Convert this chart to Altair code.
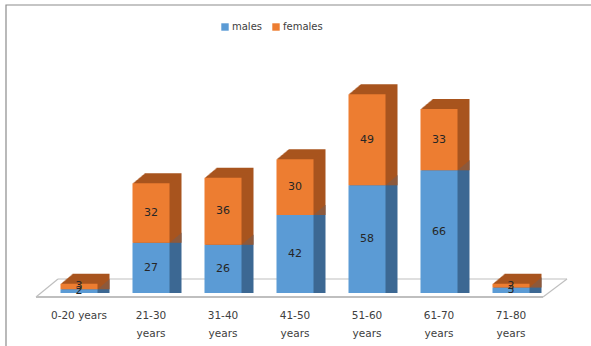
import altair as alt
import pandas as pd

categories = ["0-20 years", "21-30\nyears", "31-40\nyears", "41-50\nyears",
              "51-60\nyears", "61-70\nyears", "71-80\nyears"]
males = [2, 27, 26, 42, 58, 66, 3]
females = [3, 32, 36, 30, 49, 33, 2]
series = ["males", "females"]

rows = []
for c, m, f in zip(categories, males, females):
    rows.append({"cat": c, "series": "males", "value": m, "y0": 0, "y1": m, "mid": m / 2})
    rows.append({"cat": c, "series": "females", "value": f, "y0": m, "y1": m + f, "mid": m + f / 2})
df = pd.DataFrame(rows)

front_colors = ["#5b9bd5", "#ed7d31"]
side_colors = ["#3d6993", "#a8541e"]

FONT = "DejaVu Sans"
xenc = alt.X("cat:N", sort=categories, title=None,
             axis=alt.Axis(labelExpr="split(datum.label, '\\n')", labelAngle=0,
                           labelFont=FONT, labelFontSize=10.5, labelColor="#404040",
                           labelLineHeight=18, labelPadding=22, domain=False, ticks=False,
                           labelBaseline="middle"))
yscale = alt.Scale(domain=[0, 120])
yenc = alt.Y("y1:Q", scale=yscale, axis=None)

base = alt.Chart(df)

one = pd.DataFrame({"k": [0]})
# decorative frame and floor
frame = alt.Chart(one).mark_rect(
    fill=None, stroke="#8c8c8c", strokeWidth=1.2
).encode(x=alt.value(-37), x2=alt.value(600), y=alt.value(-65), y2=alt.value(320))

floor_back = alt.Chart(one).mark_rule(color="#bfbfbf", strokeWidth=1.2).encode(
    x=alt.value(15), x2=alt.value(524), y=alt.value(209), y2=alt.value(209))
floor_front = alt.Chart(one).mark_rule(color="#bfbfbf", strokeWidth=2).encode(
    x=alt.value(-7), x2=alt.value(500), y=alt.value(227), y2=alt.value(227))
floor_left = alt.Chart(one).mark_rule(color="#bfbfbf", strokeWidth=1.2).encode(
    x=alt.value(-7), x2=alt.value(15), y=alt.value(227), y2=alt.value(209))
floor_right = alt.Chart(one).mark_rule(color="#bfbfbf", strokeWidth=1.2).encode(
    x=alt.value(500), x2=alt.value(524), y=alt.value(227), y2=alt.value(209))

layers = [frame, floor_back, floor_left, floor_right, floor_front]

DEPTH = 12
for i in range(DEPTH, 0, -1):
    layers.append(
        base.mark_bar(size=37, xOffset=i, yOffset=-i * 10 / 12).encode(
            x=xenc, y=yenc, y2="y0:Q",
            color=alt.Color("series:N", scale=alt.Scale(domain=series, range=side_colors), legend=None),
        )
    )

front = base.mark_bar(size=37).encode(
    x=xenc, y=yenc, y2="y0:Q",
    color=alt.Color("series:N", scale=alt.Scale(domain=series, range=front_colors),
                    title=None,
                    legend=alt.Legend(orient="none", legendX=177, legendY=-48, direction="horizontal",
                                      symbolType="square", symbolSize=55, symbolStrokeWidth=0,
                                      labelFont=FONT, labelFontSize=10, labelColor="#404040",
                                      columnPadding=8, labelOffset=2)),
)
layers.append(front)

labels = base.mark_text(font=FONT, fontSize=11, color="#262626", baseline="middle").encode(
    x=xenc, y=alt.Y("mid:Q", scale=yscale, axis=None), text="value:Q")
layers.append(labels)

chart = alt.layer(*layers).resolve_scale(color="independent").properties(
    width=504, height=223,
    padding={"left": 43, "top": 70, "right": 44, "bottom": 53},
    autosize=alt.AutoSizeParams(type="none"),
    background="white",
).configure_view(stroke=None)

chart.save("out.html", embed_options={"renderer": "svg", "actions": False})
